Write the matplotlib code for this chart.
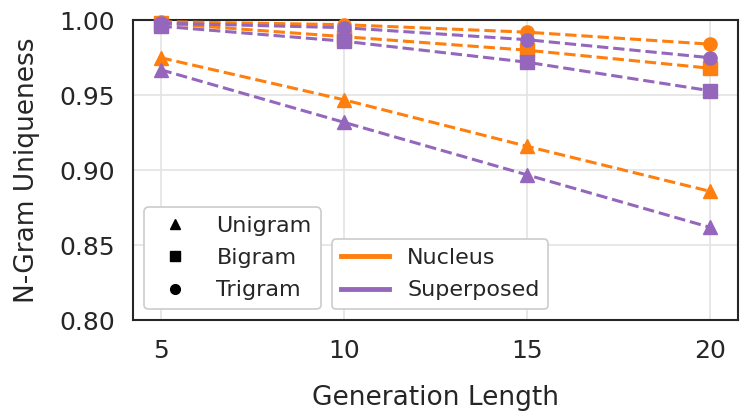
import matplotlib
matplotlib.use("Agg")
import matplotlib.pyplot as plt
from matplotlib.lines import Line2D

lengths = [5, 10, 15, 20]
nucleus_uni = [0.975, 0.947, 0.916, 0.886]
nucleus_bi = [0.998, 0.989, 0.980, 0.968]
nucleus_tri = [0.999, 0.997, 0.992, 0.984]
super_uni = [0.967, 0.932, 0.897, 0.862]
super_bi = [0.996, 0.986, 0.972, 0.953]
super_tri = [0.998, 0.995, 0.987, 0.975]

orange = "#ff7f0e"
purple = "#9467bd"
text_c = "#262626"

plt.rcParams['font.family'] = ['DejaVu Sans']
plt.rcParams['text.color'] = text_c
plt.rcParams['axes.labelcolor'] = text_c
plt.rcParams['xtick.color'] = text_c
plt.rcParams['ytick.color'] = text_c

fig, ax = plt.subplots(figsize=(7.48, 4.2), dpi=100)

series = [
    (nucleus_uni, orange, '^'), (nucleus_bi, orange, 's'), (nucleus_tri, orange, 'o'),
    (super_uni, purple, '^'), (super_bi, purple, 's'), (super_tri, purple, 'o'),
]
for vals, c, m in series:
    ax.plot(lengths, vals, color=c, marker=m, linestyle='--', linewidth=2.2,
            markersize=9.5, zorder=3, clip_on=False)

ax.set_ylim(0.80, 1.00)
ax.margins(x=0.05)
ax.set_xticks(lengths)
ax.set_yticks([0.80, 0.85, 0.90, 0.95, 1.00])
ax.set_yticklabels(["0.80", "0.85", "0.90", "0.95", "1.00"])
ax.tick_params(labelsize=18, length=0, pad=13)
ax.grid(True, color='#e3e3e3', linewidth=1.2)
ax.set_axisbelow(True)
for s in ax.spines.values():
    s.set_color('#262626')
    s.set_linewidth(1.5)
ax.set_xlabel("Generation Length", fontsize=19, labelpad=16)
ax.set_ylabel("N-Gram Uniqueness", fontsize=19, labelpad=14)

mh = [Line2D([], [], color='black', marker=m, linestyle='None', markersize=7) for m in ['^', 's', 'o']]
leg1 = ax.legend(mh, ["Unigram", "Bigram", "Trigram"], loc='lower left', fontsize=16,
                 bbox_to_anchor=(0.0, 0.0), handlelength=2.0, handletextpad=0.85,
                 labelspacing=0.55, borderaxespad=0.5, borderpad=0.4,
                 edgecolor='#cccccc', framealpha=1.0)
leg1.get_frame().set_linewidth(1.2)
ax.add_artist(leg1)
lh = [Line2D([], [], color=orange, linewidth=3.5), Line2D([], [], color=purple, linewidth=3.5)]
leg2 = ax.legend(lh, ["Nucleus", "Superposed"], loc='lower left', fontsize=16,
                 bbox_to_anchor=(0.31, 0.0), handlelength=2.2, handletextpad=0.8,
                 labelspacing=0.55, borderaxespad=0.5, borderpad=0.4,
                 edgecolor='#cccccc', framealpha=1.0)
leg2.get_frame().set_linewidth(1.2)

fig.subplots_adjust(left=0.178, right=0.986, top=0.952, bottom=0.237)
fig.savefig("out.png", dpi=100)
